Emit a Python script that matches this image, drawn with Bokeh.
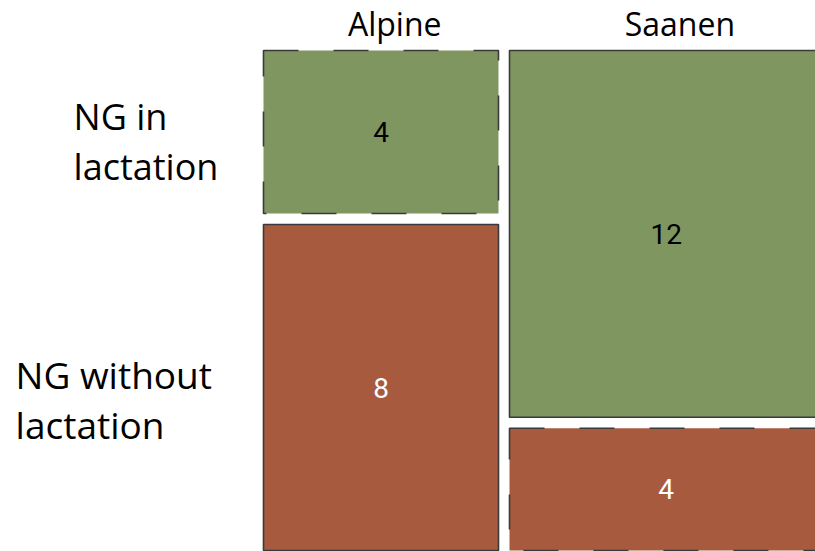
from bokeh.plotting import figure
from bokeh.models import Range1d, ColumnDataSource
from bokeh.core.properties import value
from bokeh.embed import file_html
from bokeh.resources import INLINE

# ---- data ----
breeds = ["Alpine", "Saanen"]
states = ["NG in\nlactation", "NG without\nlactation"]
counts_lactation = [4, 12]      # NG in lactation, per breed
counts_without = [8, 4]         # NG without lactation, per breed

# ---- layout constants (style) ----
GREEN = "#7f9660"
RED = "#a85a3e"
EDGE = "#3a3a3a"
GAP_X = 0.562     # gap between columns, in count units
GAP_Y = 0.022     # gap between cells, in column fraction

W, H = 815, 551
PXU = 19.583      # pixels per count unit (x)
PXV = 500.0       # pixels per column height (y)
X0PIX, Y0PIX = 263.0, 50.0

p = figure(width=W, height=H, output_backend="svg", toolbar_location=None,
           x_range=Range1d(-X0PIX / PXU, (W - X0PIX) / PXU),
           y_range=Range1d((H - Y0PIX) / PXV, -Y0PIX / PXV),
           min_border=0, min_border_left=0, min_border_right=0,
           min_border_top=0, min_border_bottom=0)
p.axis.visible = False
p.grid.visible = False
p.outline_line_color = None
p.background_fill_color = "white"
p.border_fill_color = "white"

rows = [counts_lactation, counts_without]
row_colors = [GREEN, RED]
text_colors = ["black", "white"]
col_tot = [counts_lactation[i] + counts_without[i] for i in range(len(breeds))]
row_tot = [sum(r) for r in rows]
N = sum(col_tot)

L, R, T, B, F, D, TX, TY, LBL, TC = [], [], [], [], [], [], [], [], [], []
x0 = 0.0
col_centers = []
for j, b in enumerate(breeds):
    x1 = x0 + col_tot[j]
    col_centers.append((x0 + x1) / 2)
    y0 = 0.0
    for i, r in enumerate(rows):
        h = (1 - GAP_Y) * r[j] / col_tot[j]
        y1 = y0 + h
        L.append(x0); R.append(x1); T.append(y0); B.append(y1)
        F.append(row_colors[i])
        expected = row_tot[i] * col_tot[j] / N
        D.append("35 35" if r[j] < expected else "solid")
        TX.append((x0 + x1) / 2); TY.append((y0 + y1) / 2)
        LBL.append(str(r[j])); TC.append(text_colors[i])
        y0 = y1 + GAP_Y
    x0 = x1 + GAP_X

for k in range(len(L)):
    p.quad(left=L[k], right=R[k], top=T[k], bottom=B[k], fill_color=F[k],
           line_color=EDGE, line_width=1.6, line_dash=D[k])

src = ColumnDataSource(dict(x=TX, y=TY, t=LBL, c=TC))
p.text(x="x", y="y", text="t", text_color="c", source=src,
       text_font=value("Roboto"), text_font_size="28px",
       text_align="center", text_baseline="middle")

# column labels
p.text(x=[c + 0.7 for c in col_centers], y=[-0.055] * len(breeds), text=breeds,
       text_font=value("Open Sans"), text_font_size="32px", text_color="black",
       text_align="center", text_baseline="alphabetic")

# row labels
row_label_x = [-9.70, -12.66]
row_label_y = [0.132, 0.648]
row_label_size = ["36px", "37px"]
for i, s in enumerate(states):
    lines = s.split("\n")
    p.text(x=[row_label_x[i]] * len(lines),
           y=[row_label_y[i] + 0.1 * k for k in range(len(lines))],
           text=lines, text_font=value("Open Sans"), text_font_size=row_label_size[i],
           text_color="black", text_align="left", text_baseline="alphabetic")

open("out.html", "w").write(file_html(p, INLINE))
